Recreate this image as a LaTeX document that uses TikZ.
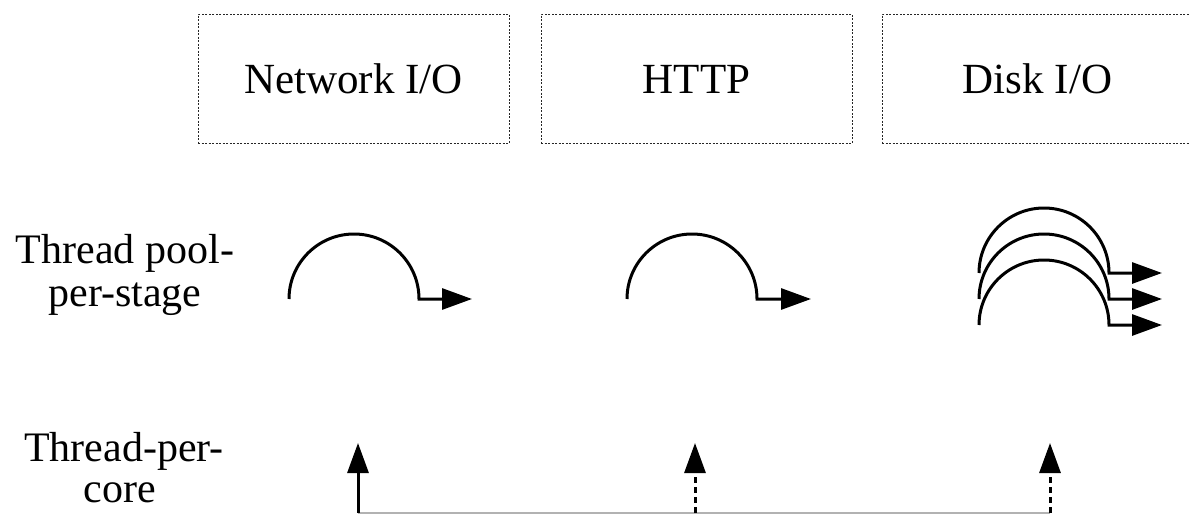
\documentclass[tikz,border=0pt]{standalone}
\usepackage{fontspec}
\setmainfont{Liberation Serif}
\usetikzlibrary{arrows.meta}
\begin{document}
\begin{tikzpicture}[x=1pt,y=-1pt,
  lbl/.style={font=\fontsize{42}{48}\selectfont, inner sep=0pt, anchor=base, text depth=0pt},
  stagebox/.style={draw=black!85, line width=0.9pt, dash pattern=on 2pt off 1.5pt,
    minimum width=311pt, minimum height=129pt, inner sep=0pt,
    font=\fontsize{43}{50}\selectfont, text height=30pt, text depth=0pt},
  flow/.style={line width=3pt, -{Triangle[length=30pt,width=21pt]}},
  dflow/.style={flow, dash pattern=on 6pt off 4pt},
  base/.style={draw=black!30, line width=1.2pt}]
\useasboundingbox (0,0) rectangle (1190,514);

% stage boxes
\node[stagebox] (net)  at (353.5,78.5) {Network I/O};
\node[stagebox] (http) at (696.5,78.5) {HTTP};
\node[stagebox] (disk) at (1037.5,78.5) {Disk I/O};

% row labels
\node[lbl] (tp1) at (125,263) {Thread pool-};
\node[lbl] (tp2) at (125,306) {per-stage};
\node[lbl] (tc1) at (124,461) {Thread-per-};
\node[lbl] (tc2) at (120,502) {core};

% thread pool per stage arcs
\coordinate (a1s) at (289,299);  \coordinate (a1e) at (472,299);
\coordinate (a2s) at (627,299);  \coordinate (a2e) at (811,299);
\draw[flow] (a1s) arc[start angle=180,end angle=360,radius=65] -- (a1e);
\draw[flow] (a2s) arc[start angle=180,end angle=360,radius=65] -- (a2e);
\coordinate (d1s) at (979,273);  \coordinate (d1e) at (1162,273);
\coordinate (d2s) at (979,299);  \coordinate (d2e) at (1162,299);
\coordinate (d3s) at (979,325);  \coordinate (d3e) at (1162,325);
\draw[flow] (d1s) arc[start angle=180,end angle=360,radius=65] -- (d1e);
\draw[flow] (d2s) arc[start angle=180,end angle=360,radius=65] -- (d2e);
\draw[flow] (d3s) arc[start angle=180,end angle=360,radius=65] -- (d3e);

% thread per core
\coordinate (b1) at (358,513);  \coordinate (t1) at (358,443);
\coordinate (b2) at (695,513);  \coordinate (t2) at (695,443);
\coordinate (b3) at (1050,513); \coordinate (t3) at (1050,443);
\draw[base] (b1) -- (b3);
\draw[flow] (b1) -- (t1);
\draw[dflow] (b2) -- (t2);
\draw[dflow] (b3) -- (t3);
\end{tikzpicture}
\end{document}
